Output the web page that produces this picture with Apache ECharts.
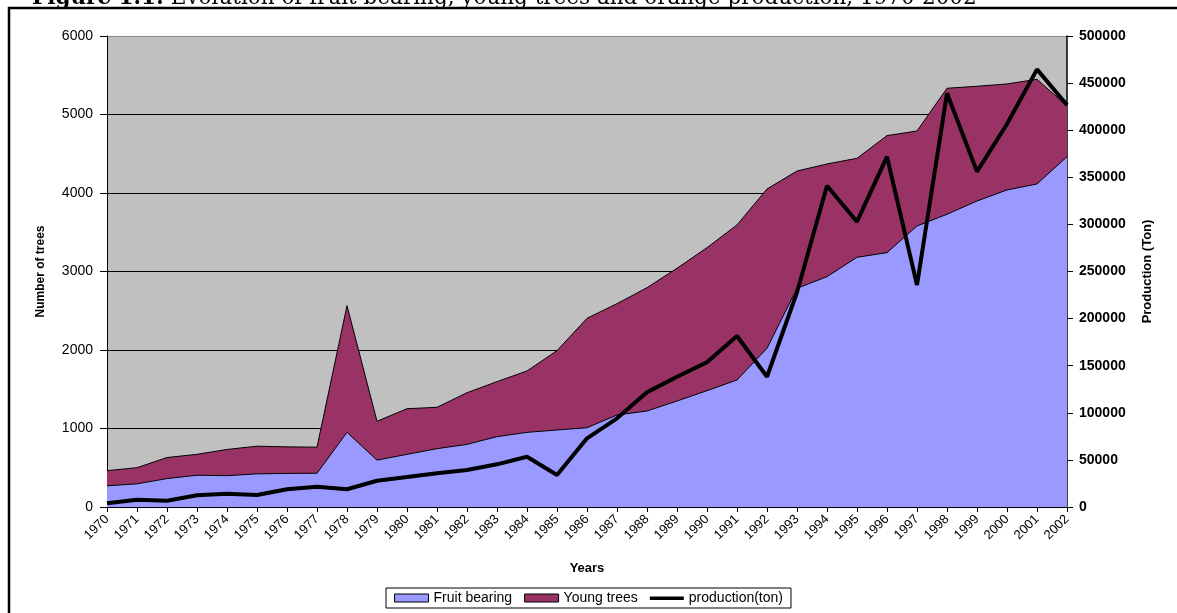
<!DOCTYPE html>
<html>
<head>
<meta charset="utf-8">
<script src="https://cdn.jsdelivr.net/npm/echarts@6/dist/echarts.min.js"></script>
<style>
  html, body { margin: 0; padding: 0; background: #fff; }
  #chart { width: 1177px; height: 613px; }
</style>
</head>
<body>
<div id="chart"></div>
<script>
// data
var years = ['1970', '1971', '1972', '1973', '1974', '1975', '1976', '1977', '1978', '1979',
  '1980', '1981', '1982', '1983', '1984', '1985', '1986', '1987', '1988', '1989',
  '1990', '1991', '1992', '1993', '1994', '1995', '1996', '1997', '1998', '1999',
  '2000', '2001', '2002'];

var fruitBearing = [270, 295, 362, 405, 399, 422, 428, 430, 951, 597,
  671, 743, 798, 896, 951, 981, 1010, 1172, 1223, 1350,
  1482, 1618, 2022, 2786, 2934, 3181, 3240, 3580, 3729, 3898,
  4039, 4115, 4463];

var youngTrees = [193, 206, 268, 266, 334, 353, 338, 332, 1614, 495,
  581, 527, 658, 701, 782, 1011, 1394, 1418, 1571, 1691,
  1822, 1975, 2029, 1494, 1436, 1261, 1491, 1210, 1605, 1462,
  1350, 1334, 646];

var production = [3900, 7800, 6700, 12400, 14100, 12700, 18800, 21600, 18800, 27900,
  31800, 35800, 39300, 45300, 53400, 34000, 72900, 94100, 121800, 138300,
  153600, 181500, 138300, 228000, 341000, 302900, 371900, 235700, 439200, 356000,
  406600, 464600, 426800];

var FONT = '"Liberation Sans", Arial, sans-serif';

var chart = echarts.init(document.getElementById('chart'));

// plain numbers, no thousand separators
function plain(v) { return String(v); }

var option = {
  animation: false,
  textStyle: { fontFamily: FONT, color: '#000' },
  graphic: [
    {
      type: 'rect',
      z: 0,
      shape: { x: 9, y: 8, width: 1400, height: 900 },
      style: { fill: 'none', stroke: '#000', lineWidth: 2.5 }
    },
    {
      type: 'text',
      left: 32,
      top: -13,
      z: 10,
      style: {
        text: '{b|Figure 1.1:} Evolution of fruit bearing, young trees and orange production, 1970-2002',
        font: '21.5px "DejaVu Serif", serif',
        fill: '#000',
        rich: {
          b: { fontWeight: 'bold', fontSize: 21.5, fontFamily: '"DejaVu Serif", serif' }
        }
      }
    }
  ],
  legend: {
    left: 'center',
    top: 588,
    orient: 'horizontal',
    itemWidth: 34,
    itemHeight: 8,
    itemGap: 12,
    padding: [3, 8],
    borderColor: '#000',
    borderWidth: 1,
    textStyle: { fontFamily: FONT, fontSize: 14, color: '#000' },
    data: [
      { name: 'Fruit bearing', icon: 'rect', itemStyle: { color: '#9999FF', borderColor: '#000', borderWidth: 1 } },
      { name: 'Young trees', icon: 'rect', itemStyle: { color: '#993366', borderColor: '#000', borderWidth: 1 } },
      {
        name: 'production(ton)',
        icon: 'path://M0,0L34,0M0,2.5H34V6H0ZM0,8L34,8',
        itemStyle: { color: '#000', borderWidth: 0 }
      }
    ]
  },
  grid: {
    left: 107,
    right: 110,
    top: 36,
    bottom: 106,
    show: true,
    backgroundColor: '#C0C0C0',
    borderWidth: 0
  },
  xAxis: {
    type: 'category',
    boundaryGap: false,
    data: years,
    name: 'Years',
    nameLocation: 'middle',
    nameGap: 55,
    nameTextStyle: { fontFamily: FONT, fontSize: 13, fontWeight: 'bold', color: '#000' },
    axisLine: { lineStyle: { color: '#000', width: 1 } },
    axisTick: { show: true, length: 5, lineStyle: { color: '#000' } },
    axisLabel: { rotate: 45, interval: 0, fontSize: 13, color: '#000', margin: 10 },
    splitLine: { show: false }
  },
  yAxis: [
    {
      type: 'value',
      position: 'left',
      min: 0,
      max: 6000,
      interval: 1000,
      name: 'Number of trees',
      nameLocation: 'middle',
      nameRotate: 90,
      nameGap: 60,
      nameTextStyle: { fontFamily: FONT, fontSize: 12, fontWeight: 'bold', color: '#000' },
      axisLine: { show: true, lineStyle: { color: '#000', width: 1 } },
      axisTick: { show: true, length: 7, lineStyle: { color: '#000' } },
      axisLabel: { fontSize: 14, color: '#000', margin: 14, formatter: plain },
      splitLine: {
        show: true,
        lineStyle: { color: ['#000', '#000', '#000', '#000', '#000', '#000', '#888'], width: 1 }
      }
    },
    {
      type: 'value',
      position: 'right',
      min: 0,
      max: 500000,
      interval: 50000,
      name: 'Production (Ton)',
      nameLocation: 'middle',
      nameRotate: 90,
      nameGap: 74,
      nameTextStyle: { fontFamily: FONT, fontSize: 13, fontWeight: 'bold', color: '#000' },
      axisLine: { show: true, lineStyle: { color: '#000', width: 1.5 } },
      axisTick: { show: true, length: 6, lineStyle: { color: '#000' } },
      axisLabel: { fontSize: 14, fontWeight: 'bold', color: '#000', margin: 12, formatter: plain },
      splitLine: { show: false }
    }
  ],
  series: [
    {
      name: 'Fruit bearing',
      type: 'line',
      stack: 'trees',
      symbol: 'none',
      data: fruitBearing,
      itemStyle: { color: '#9999FF' },
      lineStyle: { color: '#000', width: 1 },
      areaStyle: { color: '#9999FF', opacity: 1 }
    },
    {
      name: 'Young trees',
      type: 'line',
      stack: 'trees',
      symbol: 'none',
      data: youngTrees,
      itemStyle: { color: '#993366' },
      lineStyle: { color: '#000', width: 1 },
      areaStyle: { color: '#993366', opacity: 1 }
    },
    {
      name: 'production(ton)',
      type: 'line',
      yAxisIndex: 1,
      symbol: 'none',
      data: production,
      itemStyle: { color: '#000' },
      lineStyle: { color: '#000', width: 4 },
      z: 5
    }
  ]
};

chart.setOption(option);
</script>
</body>
</html>
